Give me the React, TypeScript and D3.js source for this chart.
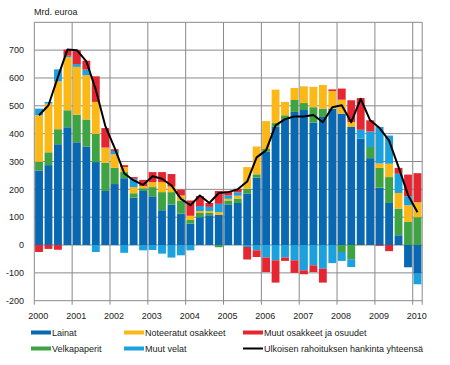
import React from "react";
import * as d3 from "d3";

const quarters = [
  "2000Q1","2000Q2","2000Q3","2000Q4","2001Q1","2001Q2","2001Q3","2001Q4",
  "2002Q1","2002Q2","2002Q3","2002Q4","2003Q1","2003Q2","2003Q3","2003Q4",
  "2004Q1","2004Q2","2004Q3","2004Q4","2005Q1","2005Q2","2005Q3","2005Q4",
  "2006Q1","2006Q2","2006Q3","2006Q4","2007Q1","2007Q2","2007Q3","2007Q4",
  "2008Q1","2008Q2","2008Q3","2008Q4","2009Q1","2009Q2","2009Q3","2009Q4",
  "2010Q1"
];
const years = ["2000","2001","2002","2003","2004","2005","2006","2007","2008","2009","2010"];

const lainat = [268,287,362,423,369,354,298,194,219,240,170,194,175,125,145,113,77,100,107,108,146,151,184,242,335,425,452,478,485,440,460,490,472,424,382,312,206,151,35,-80,-103];
const velkapaperit = [31,46,54,61,99,97,101,101,58,22,16,10,33,65,45,47,13,15,8,-8,14,16,18,12,10,13,14,43,25,55,30,0,-25,-51,0,40,71,93,96,83,100];
const noteeratut = [167,175,172,191,172,159,115,55,49,18,22,8,18,36,20,18,15,7,7,10,6,10,78,100,100,120,48,43,60,73,85,63,50,18,-2,0,16,48,56,60,54];
const muutVelat = [24,6,43,5,10,20,-25,0,12,-28,30,-19,-18,-31,-45,-37,-19,18,15,30,12,12,-7,-19,-45,-55,-45,-55,-91,-73,-85,-65,-32,-28,32,56,131,101,69,32,-38];
const muutOsakkeet = [-25,-14,-17,22,50,32,92,70,6,7,6,22,36,36,45,21,55,36,14,46,16,13,-45,-24,-52,-80,-12,-45,-14,-24,-50,6,40,78,114,40,-3,-22,21,78,104];
const yhteensa = [466,502,604,702,700,660,558,428,348,258,232,216,247,238,214,166,143,178,151,187,190,200,228,315,340,430,452,462,462,467,441,495,502,441,525,448,420,375,280,180,118];

const yTicks = [-200,-100,0,100,200,300,400,500,600,700];
const yGrid = [-200,-100,0,100,200,300,400,500,600,700,800];

const seriesNames = ["Lainat","Velkapaperit","Noteeratut osakkeet","Muut velat","Muut osakkeet ja osuudet"];
const seriesColors = ["#0869b2","#3ea443","#fbb817","#1aa1de","#e52630"];
const totalName = "Ulkoisen rahoituksen hankinta yhteensä";

export default function App() {
  const W = 450, H = 365;
  const left = 34.3, right = 422.2, top = 22.3, bottom = 300.7;

  const table = quarters.map((q, i) => ({
    q,
    s0: lainat[i], s1: velkapaperit[i], s2: noteeratut[i], s3: muutVelat[i], s4: muutOsakkeet[i],
  }));
  const keys = ["s0","s1","s2","s3","s4"];
  const stacked = d3.stack<any>().keys(keys).offset(d3.stackOffsetDiverging)(table);

  const x = d3.scaleBand<string>().domain(quarters).range([left, right]).paddingInner(0.17).paddingOuter(0.085);
  const xYear = d3.scaleLinear().domain([2000, 2010.25]).range([left, right]);
  const y = d3.scaleLinear().domain([-200, 800]).range([bottom, top]);

  const line = d3.line<number>()
    .x((_, i) => (x(quarters[i]) as number) + x.bandwidth() / 2)
    .y((d) => y(d));

  const font = "'Liberation Sans', Arial, sans-serif";
  const textColor = "#222";

  const legendItems = [
    { name: seriesNames[0], color: seriesColors[0], x: 31, y: 335.5, line: false },
    { name: seriesNames[2], color: seriesColors[2], x: 124, y: 335.5, line: false },
    { name: seriesNames[4], color: seriesColors[4], x: 243, y: 335.5, line: false },
    { name: seriesNames[1], color: seriesColors[1], x: 31, y: 351.5, line: false },
    { name: seriesNames[3], color: seriesColors[3], x: 124, y: 351.5, line: false },
    { name: totalName, color: "#000", x: 243, y: 351.5, line: true },
  ];

  return (
    <svg width={W} height={H} style={{ position: "absolute", left: 0, top: 0, background: "#fff" }} fontFamily={font}>
      <text x={34} y={15} fontSize={9} fill={textColor}>Mrd. euroa</text>
      {/* grid */}
      {yGrid.map((v) => (
        <line key={"h" + v} x1={left} x2={right} y1={y(v)} y2={y(v)} stroke="#8a8a8a" strokeWidth={1} />
      ))}
      {years.map((yr) => (
        <line key={"v" + yr} x1={xYear(+yr)} x2={xYear(+yr)} y1={top} y2={bottom + 4} stroke="#8a8a8a" strokeWidth={1} />
      ))}
      <line x1={right} x2={right} y1={top} y2={bottom + 4} stroke="#8a8a8a" strokeWidth={1} />
      {/* bars */}
      {stacked.map((layer, li) => (
        <g key={layer.key} fill={seriesColors[li]}>
          {layer.map((d, i) => {
            const y0 = y(d[0]), y1 = y(d[1]);
            const h = Math.abs(y0 - y1);
            if (h < 0.01) return null;
            return (
              <rect key={i} x={x(quarters[i])} width={x.bandwidth()} y={Math.min(y0, y1)} height={h} />
            );
          })}
        </g>
      ))}
      {/* total line */}
      <path d={line(yhteensa) || ""} fill="none" stroke="#000" strokeWidth={2} strokeLinejoin="round" />
      {/* y labels */}
      {yTicks.map((v) => (
        <text key={"yl" + v} x={24} y={y(v) + 3.2} fontSize={9} textAnchor="end" fill={textColor}>{v}</text>
      ))}
      {/* x labels */}
      {years.map((yr) => (
        <text key={"xl" + yr} x={xYear(+yr) + 4} y={319} fontSize={9} textAnchor="middle" fill={textColor}>{yr}</text>
      ))}
      {/* legend */}
      {legendItems.map((it) => (
        <g key={it.name}>
          {it.line ? (
            <rect x={it.x} y={it.y - 4} width={20} height={2} fill={it.color} />
          ) : (
            <rect x={it.x} y={it.y - 5} width={20} height={4} fill={it.color} />
          )}
          <text x={it.x + 21} y={it.y} fontSize={9} fill={textColor}>{it.name}</text>
        </g>
      ))}
    </svg>
  );
}
